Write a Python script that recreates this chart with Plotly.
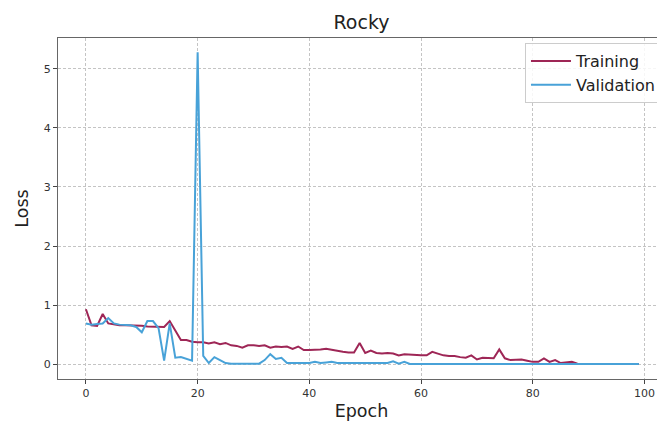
import plotly.graph_objects as go

epochs = list(range(100))

training = [
    0.93, 0.66, 0.65, 0.85, 0.69, 0.67, 0.66, 0.66, 0.66, 0.65,
    0.65, 0.64, 0.64, 0.63, 0.63, 0.73, 0.57, 0.41, 0.41, 0.38,
    0.37, 0.37, 0.35, 0.37, 0.34, 0.36, 0.32, 0.31, 0.28, 0.32,
    0.32, 0.31, 0.32, 0.28, 0.30, 0.29, 0.30, 0.26, 0.30, 0.24,
    0.24, 0.24, 0.25, 0.26, 0.24, 0.23, 0.21, 0.20, 0.20, 0.36,
    0.19, 0.23, 0.19, 0.18, 0.19, 0.18, 0.15, 0.17, 0.16, 0.15,
    0.15, 0.15, 0.21, 0.18, 0.15, 0.14, 0.14, 0.12, 0.11, 0.15,
    0.08, 0.11, 0.11, 0.10, 0.25, 0.10, 0.07, 0.07, 0.08, 0.06,
    0.04, 0.04, 0.10, 0.04, 0.07, 0.02, 0.03, 0.04, 0.01, 0.005,
    0.005, 0.005, 0.005, 0.005, 0.005, 0.005, 0.005, 0.005, 0.005, 0.005,
]

validation = [
    0.69, 0.67, 0.68, 0.69, 0.78, 0.69, 0.67, 0.66, 0.66, 0.63,
    0.54, 0.73, 0.73, 0.61, 0.06, 0.69, 0.11, 0.12, 0.09, 0.06,
    5.28, 0.14, 0.02, 0.12, 0.07, 0.02, 0.01, 0.01, 0.01, 0.02,
    0.02, 0.01, 0.07, 0.17, 0.09, 0.11, 0.02, 0.02, 0.02, 0.02,
    0.02, 0.04, 0.02, 0.03, 0.04, 0.02, 0.02, 0.02, 0.02, 0.02,
    0.02, 0.02, 0.02, 0.02, 0.02, 0.05, 0.01, 0.04, 0.005, 0.005,
    0.005, 0.005, 0.005, 0.005, 0.005, 0.005, 0.005, 0.005, 0.005, 0.005,
    0.005, 0.005, 0.005, 0.005, 0.005, 0.005, 0.005, 0.005, 0.005, 0.005,
    0.005, 0.005, 0.005, 0.005, 0.005, 0.005, 0.005, 0.005, 0.005, 0.005,
    0.005, 0.005, 0.005, 0.005, 0.005, 0.005, 0.005, 0.005, 0.005, 0.005,
]

x_ticks = [0, 20, 40, 60, 80, 100]
y_ticks = [0, 1, 2, 3, 4, 5]

FONT = "DejaVu Sans"

fig = go.Figure()
fig.add_trace(go.Scatter(x=epochs, y=training, mode="lines", name="Training",
                         line=dict(color="#9e2656", width=2)))
fig.add_trace(go.Scatter(x=epochs, y=validation, mode="lines", name="Validation",
                         line=dict(color="#48a2d8", width=2)))

axis_common = dict(
    showline=True, linecolor="#666666", linewidth=1.3,
    ticks="outside", ticklen=4, tickwidth=1, tickcolor="#444444",
    showgrid=True, gridcolor="#c4c4c4", griddash="3px,2px", gridwidth=1,
    zeroline=False,
    tickfont=dict(family=FONT, size=11, color="#333333"),
)

fig.update_layout(
    width=657, height=416,
    margin=dict(l=50, r=0, t=30, b=45, autoexpand=False),
    paper_bgcolor="white", plot_bgcolor="white",
    title=dict(text="Rocky", x=0.5, xanchor="center", y=0.966, yanchor="middle",
               xref="paper",
               font=dict(family=FONT, size=19, color="#222222")),
    xaxis=dict(range=[-5.0, 103.67], tickvals=x_ticks, mirror=True,
               title=dict(text="Epoch", font=dict(family=FONT, size=17.5, color="#222222"),
                          standoff=5),
               **axis_common),
    yaxis=dict(range=[-0.25, 5.52], tickvals=y_ticks,
               title=dict(text="Loss", font=dict(family=FONT, size=17.5, color="#222222"),
                          standoff=10),
               **axis_common),
    legend=dict(x=0.995, y=0.985, xanchor="right", yanchor="top",
                bgcolor="rgba(255,255,255,0.85)", bordercolor="#cccccc", borderwidth=1,
                font=dict(family=FONT, size=16, color="#222222"),
                itemwidth=40, tracegroupgap=2),
    showlegend=True,
)

fig.write_html("out.html")
